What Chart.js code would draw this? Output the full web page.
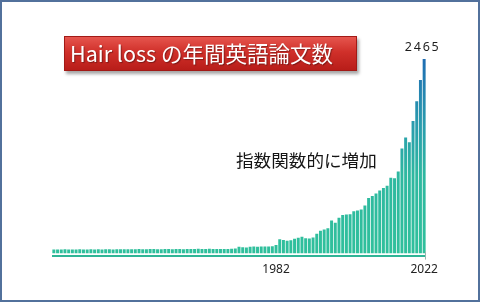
<!DOCTYPE html>
<html>
<head>
    <title>Hair loss papers per year</title>
    <style>
        body { margin: 0; background: #fff; }
        #wrap { position: relative; width: 480px; height: 302px; }
        #frame { position: absolute; left: 0; top: 0; width: 480px; height: 302px; box-sizing: border-box;
                 border: 2px solid #52719c; pointer-events: none; }
        #titleBox { position: absolute; left: 64px; top: 36px; width: 293px; height: 35px; box-sizing: border-box;
                    background: linear-gradient(#e6554e, #d0302a 45%, #b81d19);
                    border: 1px solid #a21a16; box-shadow: 2px 3px 3px rgba(0,0,0,0.35);
                    color: #fff; font: 21.5px "Noto Sans CJK JP", sans-serif; line-height: 32px;
                    padding-left: 5px; white-space: nowrap; text-shadow: 1px 1px 1px rgba(0,0,0,0.35); }
        #note { position: absolute; left: 236px; top: 147px; color: #151515;
                font: 17.6px "Noto Sans CJK JP", sans-serif; white-space: nowrap; }
    </style>
</head>
<body>
    <div id="wrap">
        <canvas id="chart"></canvas>
        <div id="titleBox">Hair loss の年間英語論文数</div>
        <div id="note">指数関数的に増加</div>
        <div id="frame"></div>
    </div>
    <script src="https://cdn.jsdelivr.net/npm/chart.js@4.4.1/dist/chart.umd.min.js"></script>
    <script>
        // Años (categorías)
        const firstYear = 1922;
        const lastYear = 2022;
        const years = [];
        for (let y = firstYear; y <= lastYear; y++) years.push(String(y));

        // Artículos por año
        const papers1922to1950 = [52, 53, 52, 54, 52, 51, 53, 54, 52, 53, 55, 53, 54, 52,
                                  54, 55, 53, 54, 56, 55, 54, 56, 55, 57, 56, 55, 57, 58, 56];
        const papers1951to1982 = [56, 58, 57, 56, 58, 57, 56, 58, 59, 57, 60, 58, 59, 60, 59, 58, 57, 59, 58, 60,
                                  66, 88, 80, 78, 86, 90, 88, 90, 89, 91, 94, 108];
        const papers1983to2022 = [182, 172, 162, 170, 187, 200, 212, 196, 190, 205,
                                  250, 290, 305, 320, 420, 390, 455, 490, 495, 500,
                                  535, 545, 560, 610, 705, 730, 760, 800, 830, 860,
                                  960, 955, 1040, 1330, 1470, 1410, 1680, 1930, 2200, 2465];
        const papers = papers1922to1950.concat(papers1951to1982, papers1983to2022);

        // Etiquetas visibles del eje X
        const shownYears = ['1982', '2022'];

        const peakIndex = papers.indexOf(Math.max(...papers));

        function barGradient(context) {
            const chart = context.chart;
            const area = chart.chartArea;
            if (!area) return '#2fbd9a';
            const g = chart.ctx.createLinearGradient(0, area.bottom, 0, area.top);
            g.addColorStop(0, '#30c09c');
            g.addColorStop(0.4, '#2eb8a0');
            g.addColorStop(0.65, '#2a9ead');
            g.addColorStop(1, '#1f6db3');
            return g;
        }

        // Línea base y etiqueta del máximo
        const extras = {
            id: 'extras',
            afterDatasetsDraw(chart) {
                const ctx = chart.ctx;
                const area = chart.chartArea;
                const xs = chart.scales.x;
                const ys = chart.scales.y;
                ctx.save();
                ctx.strokeStyle = '#2fb596';
                ctx.lineWidth = 2;
                ctx.beginPath();
                ctx.moveTo(area.left, area.bottom + 2.5);
                ctx.lineTo(area.right, area.bottom + 2.5);
                ctx.stroke();
                ctx.strokeStyle = '#9ab8b0';
                ctx.lineWidth = 1;
                ctx.beginPath();
                ctx.moveTo(area.right - 0.5, area.bottom - 2);
                ctx.lineTo(area.right - 0.5, area.bottom + 6);
                ctx.stroke();

                const px = xs.getPixelForValue(peakIndex);
                const py = ys.getPixelForValue(papers[peakIndex]);
                ctx.fillStyle = '#1e1e1e';
                ctx.font = '12.5px "Noto Sans", sans-serif';
                ctx.letterSpacing = '1.8px';
                ctx.textAlign = 'center';
                ctx.textBaseline = 'alphabetic';
                ctx.fillText(String(papers[peakIndex]), px - 1.5, py - 8);
                ctx.restore();
            }
        };

        new Chart(document.getElementById('chart'), {
            type: 'bar',
            data: {
                labels: years,
                datasets: [{
                    data: papers,
                    backgroundColor: barGradient,
                    barPercentage: 0.8,
                    categoryPercentage: 1.0
                }]
            },
            options: {
                responsive: true,
                maintainAspectRatio: false,
                animation: false,
                layout: { padding: { left: 52, right: 54, top: 59, bottom: 16 } },
                plugins: { legend: { display: false }, tooltip: { enabled: false } },
                scales: {
                    x: {
                        grid: { display: false, drawTicks: false },
                        border: { display: false },
                        ticks: {
                            autoSkip: false,
                            maxRotation: 0,
                            padding: 9,
                            color: '#222',
                            font: { family: '"Noto Sans", sans-serif', size: 12 },
                            callback: function (value) {
                                const lab = this.getLabelForValue(value);
                                return shownYears.includes(lab) ? lab : '';
                            }
                        }
                    },
                    y: {
                        display: false,
                        min: 0,
                        max: Math.max(...papers)
                    }
                }
            },
            plugins: [extras]
        });
    </script>
</body>
</html>
